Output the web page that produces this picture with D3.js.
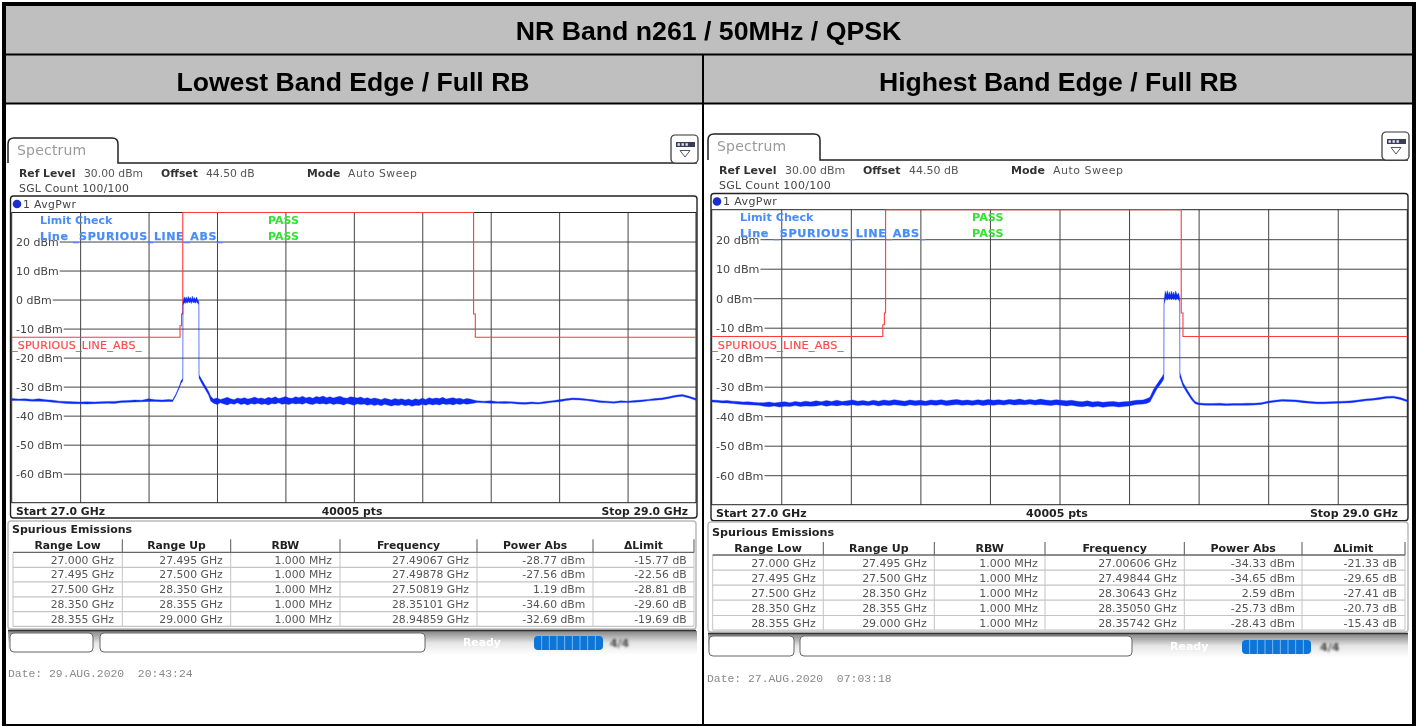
<!DOCTYPE html>
<html>
<head>
<meta charset="utf-8">
<script src="https://cdnjs.cloudflare.com/ajax/libs/d3/7.8.5/d3.min.js"></script>
<style>
  html, body { margin: 0; padding: 0; background: #fff; }
  svg { display: block; }
  text { font-family: "DejaVu Sans", sans-serif; }
</style>
</head>
<body>
<script>
'use strict';
// ---- values ----
var mainTitle = "NR Band n261 / 50MHz / QPSK";
var subTitles = ["Lowest Band Edge / Full RB", "Highest Band Edge / Full RB"];
var levelTicks = [20, 10, 0, -10, -20, -30, -40, -50, -60];
var freqTicks = [27.2, 27.4, 27.6, 27.8, 28.0, 28.2, 28.4, 28.6, 28.8];
var limitFreq = [27, 27.492, 27.492, 27.4965, 27.4965, 27.5, 27.5, 28.35, 28.35, 28.355, 28.355, 29];
var limitLevel = [-13, -13, -9, -9, -5, -5, 30, 30, -5, -5, -13, -13];
var tableHeaders = ["Range Low", "Range Up", "RBW", "Frequency", "Power Abs", "\u0394Limit"];
var rangeLow = ["27.000 GHz", "27.495 GHz", "27.500 GHz", "28.350 GHz", "28.355 GHz"];
var rangeUp = ["27.495 GHz", "27.500 GHz", "28.350 GHz", "28.355 GHz", "29.000 GHz"];
var rbw = ["1.000 MHz", "1.000 MHz", "1.000 MHz", "1.000 MHz", "1.000 MHz"];

var peakFreqLeft = ["27.49067 GHz", "27.49878 GHz", "27.50819 GHz", "28.35101 GHz", "28.94859 GHz"];
var powerLeft = ["-28.77 dBm", "-27.56 dBm", "1.19 dBm", "-34.60 dBm", "-32.69 dBm"];
var deltaLeft = ["-15.77 dB", "-22.56 dB", "-28.81 dB", "-29.60 dB", "-19.69 dB"];
var peakFreqRight = ["27.00606 GHz", "27.49844 GHz", "28.30643 GHz", "28.35050 GHz", "28.35742 GHz"];
var powerRight = ["-34.33 dBm", "-34.65 dBm", "2.59 dBm", "-25.73 dBm", "-28.43 dBm"];
var deltaRight = ["-21.33 dB", "-29.65 dB", "-27.41 dB", "-20.73 dB", "-15.43 dB"];

// trace envelopes in dBm, upper and lower edge. floor and tail parts sit on a regular sweep grid, see sweep()
// left screen, 27.00 GHz upward every 20 MHz
var leftFloorHigh = [-34.1, -34.3, -34.2, -34.4, -34.2, -34.5, -34.7, -35, -35.1, -35.2, -35.3, -35.2, -35.3, -35.2, -35.1, -35.1, -34.9, -34.8, -34.6, -34.7, -34.2, -34.5, -34.6, -34.4];
var leftFloorLow = [-34.8, -34.8, -34.9, -35, -35, -35.1, -35.4, -35.6, -35.8, -35.9, -35.9, -36, -35.9, -35.8, -35.7, -35.8, -35.5, -35.4, -35.3, -35.2, -35.1, -35.1, -35.2, -35.1];
// left screen, skirts and occupied band
var leftBandFreq = [27.47, 27.48, 27.49, 27.495, 27.4995, 27.5, 27.5005, 27.504, 27.507, 27.51, 27.513, 27.516, 27.519, 27.522, 27.525, 27.528, 27.531, 27.534, 27.537, 27.54, 27.544, 27.5465, 27.547, 27.5475, 27.555, 27.565, 27.575, 27.582];
var leftBandHigh = [-34.6, -32.5, -29.8, -28, -27.3, -26.8, -1, 1, 0.2, 0.9, 0, 1.1, 0.2, 0.8, -0.1, 1.19, 0.1, 0.7, -0.1, 0.9, -0.2, -0.6, -1, -26, -27.5, -29.5, -31.5, -33.4];
var leftBandLow = [-35.2, -33.1, -30.4, -28.8, -28.2, -27.6, -2, -1, -1.4, -0.8, -1.3, -0.6, -1.2, -0.7, -1.4, -0.5, -1.2, -0.8, -1.3, -0.7, -1.4, -1.6, -2, -27, -28.8, -30.8, -32.8, -35];
// left screen, 27.59 GHz upward every 10 MHz
var leftNoiseHigh = [
  -34.3, -33.9, -34.4, -34.1, -33.7, -34.2, -34.5, -33.9, -34.2, -33.8, -34.3,
  -34.0, -33.6, -34.1, -33.9, -34.3, -33.7, -34.0, -33.5, -34.1, -33.8, -33.4,
  -33.9, -34.0, -33.5, -33.8, -33.3, -33.9, -33.6, -34.0, -33.4, -33.7, -33.2,
  -33.8, -33.5, -33.9, -33.6, -33.3, -33.8, -34.0, -33.5, -33.7, -33.9, -33.6,
  -34.1, -33.8, -34.3, -33.9, -34.2, -34.5, -34.0, -34.3, -34.6, -34.1, -34.4,
  -34.2, -34.6, -34.3, -34.7, -34.2, -34.5, -34.0, -34.4, -33.8, -34.2, -33.9,
  -34.1, -33.7, -34.3, -34.0, -33.8, -34.2, -34.0, -34.4, -34.1, -34.3, -34.6];
var leftNoiseLow = [
  -35.7, -36.2, -35.6, -36.0, -36.3, -35.8, -36.1, -35.6, -36.2, -35.9, -36.3,
  -35.8, -36.1, -35.7, -36.2, -35.9, -36.3, -35.8, -36.0, -35.6, -36.1, -35.9,
  -36.2, -35.7, -36.0, -35.8, -36.1, -35.6, -36.0, -36.2, -35.7, -36.0, -35.8,
  -36.1, -35.7, -36.2, -35.9, -36.0, -36.3, -35.8, -36.1, -36.4, -35.9, -36.2,
  -36.0, -36.4, -36.1, -36.5, -36.2, -36.6, -36.1, -36.4, -36.7, -36.3, -36.5,
  -36.2, -36.6, -36.3, -36.8, -36.4, -36.5, -36.1, -36.4, -36.0, -36.3, -36.1,
  -36.3, -35.9, -36.2, -36.0, -36.3, -35.9, -36.2, -35.8, -36.1, -35.9, -35.7];
// left screen, 28.36 GHz upward every 20 MHz
var leftTailHigh = [-34.9, -35, -34.9, -35.2, -35.1, -35.2, -35.4, -35.5, -35.3, -35.5, -35.1, -34.9, -34.5, -34.2, -33.9, -34, -34.3, -34.5, -34.9, -35, -35.2, -34.9, -35, -34.8, -34.6, -34.4, -34.1, -33.9, -33.5, -33, -32.7, -33.3, -34.1];
var leftTailLow = [-35.5, -35.6, -35.7, -35.7, -35.8, -35.7, -36, -36.1, -35.9, -36, -35.7, -35.4, -35.2, -34.8, -34.5, -34.6, -34.8, -35.1, -35.5, -35.6, -35.7, -35.5, -35.5, -35.4, -35.2, -34.9, -34.7, -34.5, -34.1, -33.6, -33.3, -33.9, -34.7];

// right screen, 27.00 GHz upward every 15 MHz
var rightNoiseHigh = [
  -34.5, -34.6, -34.8, -34.7, -34.9, -35.0, -35.2, -35.1, -35.3, -35.4,
  -35.4, -35.2, -35.5, -35.3, -35.1, -35.4, -35.0, -35.3, -34.9, -35.2,
  -34.8, -35.1, -34.7, -35.0, -34.6, -35.0, -34.8, -34.5, -34.9, -34.7,
  -35.0, -34.6, -34.9, -34.5, -34.8, -34.4, -34.7, -34.9, -34.5, -34.8,
  -34.6, -34.9, -34.5, -34.7, -34.4, -34.8, -34.5, -34.3, -34.7, -34.5,
  -34.8, -34.4, -34.7, -34.3, -34.6, -34.4, -34.7, -34.3, -34.5, -34.2,
  -34.6, -34.3, -34.6, -34.2, -34.5, -34.7, -34.4, -34.6, -34.8, -34.6,
  -34.9, -35.1, -34.8, -35.2, -35.0, -35.3, -35.1, -35.0, -35.3, -35.1, -35.0];
var rightNoiseLow = [
  -35.2, -35.3, -35.5, -35.5, -35.7, -35.9, -36.0, -36.1, -36.2, -36.3,
  -36.6, -36.8, -36.5, -36.9, -36.6, -36.7, -36.4, -36.7, -36.5, -36.6,
  -36.5, -36.2, -36.6, -36.3, -36.5, -36.2, -36.4, -36.1, -36.4, -36.2,
  -36.4, -36.1, -36.5, -36.2, -36.4, -36.1, -36.3, -36.5, -36.1, -36.4,
  -36.2, -36.4, -36.1, -36.3, -36.0, -36.4, -36.2, -36.0, -36.3, -36.1,
  -36.3, -36.0, -36.4, -36.1, -36.3, -36.0, -36.2, -35.9, -36.2, -36.0,
  -36.1, -35.9, -36.2, -36.0, -36.2, -36.4, -36.1, -36.3, -36.5, -36.3,
  -36.6, -36.8, -36.5, -36.9, -36.6, -37.0, -36.7, -36.6, -36.9, -36.7, -36.5];
// right screen, skirts and occupied band
var rightBandFreq = [28.22, 28.24, 28.25, 28.26, 28.27, 28.28, 28.295, 28.3, 28.3005, 28.304, 28.307, 28.31, 28.313, 28.316, 28.319, 28.322, 28.325, 28.328, 28.331, 28.334, 28.338, 28.342, 28.345, 28.3455, 28.346, 28.355, 28.365, 28.38, 28.39];
var rightBandHigh = [-34.6, -34.5, -34.1, -33.6, -31, -29.2, -26.6, -25.5, -1, 2.4, 1.2, 2.59, 1.1, 2.2, 1, 2.4, 1.2, 2.1, 1, 2.5, 1.1, 1.8, 0.5, -0.5, -25.2, -28.6, -30.6, -33.5, -35];
var rightBandLow = [-36, -35.9, -35.7, -35.2, -33, -30.8, -28.4, -27.3, -2, -0.6, -0.1, -0.7, 0, -0.5, 0.1, -0.6, 0, -0.5, 0, -0.7, -0.1, -0.5, -1, -2, -26.8, -29.8, -31.8, -34.5, -35.8];
// right screen, 28.40 GHz upward every 20 MHz
var rightTailHigh = [-35.5, -35.7, -35.7, -35.6, -35.8, -35.7, -35.7, -35.6, -35.6, -35.4, -34.9, -34.6, -34.3, -34.4, -34.5, -34.8, -35, -35.2, -35.2, -35.1, -35, -34.9, -34.8, -34.5, -34.2, -34, -33.7, -33.3, -33.2, -33.7, -34.5];
var rightTailLow = [-36.1, -36.3, -36.3, -36.3, -36.4, -36.3, -36.3, -36.3, -36.2, -36, -35.5, -35.2, -34.9, -35, -35.1, -35.4, -35.6, -35.8, -35.8, -35.7, -35.6, -35.5, -35.4, -35.1, -34.8, -34.6, -34.3, -33.9, -33.8, -34.3, -35.1];

// frequency grid for a part of the sweep
function sweep(start, step, n) {
  return d3.range(n).map(function(i) { return start + i * step; });
}
var traceFreqLeft = sweep(27, 0.02, leftFloorHigh.length).concat(leftBandFreq, sweep(27.59, 0.01, leftNoiseHigh.length), sweep(28.36, 0.02, leftTailHigh.length));
var traceHighLeft = leftFloorHigh.concat(leftBandHigh, leftNoiseHigh, leftTailHigh);
var traceLowLeft = leftFloorLow.concat(leftBandLow, leftNoiseLow, leftTailLow);
var traceFreqRight = sweep(27, 0.015, rightNoiseHigh.length).concat(rightBandFreq, sweep(28.4, 0.02, rightTailHigh.length));
var traceHighRight = rightNoiseHigh.concat(rightBandHigh, rightTailHigh);
var traceLowRight = rightNoiseLow.concat(rightBandLow, rightTailLow);

// ---- layout ----
var width = 1419, height = 726;
var layoutLeft = {
  plot: [11.7, 696, 212.5, 502.7], frame: [10.5, 697, 196, 518], tab: [8, 118, 138, 163], tabEnd: 697,
  infoY: [173.3, 188.3], infoX: [19, 84, 161, 206, 307, 348], avgY: 204, dotX: 17,
  checkY: [220, 236], checkX: 40, passX: 268, limitLabel: [12, 345], tickX: 16,
  footY: 511, footX: [16, 352, 688], fontSize: 10.8,
  table: [8, 696, 521, 629], tableTitle: [12, 529], headY: 545.5, headLine: 552.3,
  rowY: [560, 574.4, 589.4, 604.3, 619], cols: [13, 122.3, 230.7, 340, 477, 593, 694], ends: [114, 222.7, 332, 469, 585.3, 686.7],
  status: [8, 697, 631, 655], box1: [10, 93, 633, 652], box2: [100, 425, 633, 652], ready: [463, 642], prog: [534, 603, 636, 650], fourX: 610,
  date: [8, 677], stamp: "Date: 29.AUG.2020  20:43:24", icon: [671, 135]
};
var layoutRight = {
  plot: [711.7, 1407.3, 209.7, 504.7], frame: [711, 1408, 193.5, 520.7], tab: [708, 820, 134, 160], tabEnd: 1408,
  infoY: [170.3, 185.3], infoX: [719, 785, 863, 909, 1011, 1053], avgY: 201.5, dotX: 717,
  checkY: [217.5, 233.5], checkX: 740, passX: 972, limitLabel: [712, 345], tickX: 716,
  footY: 513, footX: [716, 1057, 1398], fontSize: 11,
  table: [708, 1408, 522, 632], tableTitle: [712, 532], headY: 548, headLine: 555,
  rowY: [562.7, 577.7, 592.7, 608, 622.7], cols: [712.7, 823.3, 934.3, 1045, 1184.3, 1302, 1405], ends: [815.7, 926.7, 1037.7, 1176.7, 1295, 1397],
  status: [708, 1408, 634, 658], box1: [709, 794, 636, 656], box2: [800, 1132, 636, 656], ready: [1170, 646], prog: [1242, 1311, 640, 654], fourX: 1320,
  date: [707, 682], stamp: "Date: 27.AUG.2020  07:03:18", icon: [1382, 132]
};

var svg = d3.select("body").append("svg").attr("width", width).attr("height", height);
var defs = svg.append("defs");
defs.append("filter").attr("id", "soft").attr("x", "-2%").attr("y", "-2%").attr("width", "104%").attr("height", "104%")
  .append("feGaussianBlur").attr("stdDeviation", 0.4);
defs.append("filter").attr("id", "smear").attr("x", "-20%").attr("y", "-20%").attr("width", "140%").attr("height", "140%")
  .append("feGaussianBlur").attr("stdDeviation", 0.9);
var grad = defs.append("linearGradient").attr("id", "statusFade").attr("x1", 0).attr("x2", 0).attr("y1", 0).attr("y2", 1);
grad.append("stop").attr("offset", 0).attr("stop-color", "#858585");
grad.append("stop").attr("offset", 0.5).attr("stop-color", "#e6e6e6");
grad.append("stop").attr("offset", 1).attr("stop-color", "#fff");

// header bands
svg.append("rect").attr("x", 4).attr("y", 4).attr("width", 1410).attr("height", 100).attr("fill", "#bfbfbf");

function label(g, x, y, txt, size, color, bold, anchor) {
  return g.append("text").attr("x", x).attr("y", y).attr("dy", "0.35em")
    .attr("font-size", size).attr("fill", color)
    .attr("font-weight", bold ? "bold" : "normal")
    .attr("text-anchor", anchor || "start").text(txt);
}

function drawPanel(L, freq, high, low, peakFreq, power, delta) {
  var g = svg.append("g").attr("filter", "url(#soft)");
  var fs = L.fontSize;
  var x = d3.scaleLinear().domain([27, 29]).range([L.plot[0], L.plot[1]]);
  var y = d3.scaleLinear().domain([30, -70]).range([L.plot[2], L.plot[3]]);

  // tab + icon
  var t = L.tab;
  g.append("path")
    .attr("d", "M" + t[0] + "," + t[3] + "V" + (t[2] + 6) + "Q" + t[0] + "," + t[2] + " " + (t[0] + 6) + "," + t[2] +
      "H" + (t[1] - 6) + "Q" + t[1] + "," + t[2] + " " + t[1] + "," + (t[2] + 6) + "V" + t[3] + "H" + L.tabEnd)
    .attr("fill", "none").attr("stroke", "#222").attr("stroke-width", 1.5);
  label(g, t[0] + 9, t[2] + 12.5, "Spectrum", 14, "#9a9a9a", false).style("letter-spacing", "0.2px");
  var ic = g.append("g").attr("transform", "translate(" + L.icon[0] + "," + L.icon[1] + ")");
  ic.append("rect").attr("x", 0).attr("y", 0).attr("width", 27).attr("height", 28).attr("rx", 4)
    .attr("fill", "#fff").attr("stroke", "#333").attr("stroke-width", 1.2);
  ic.append("rect").attr("x", 5).attr("y", 7).attr("width", 19).attr("height", 5).attr("fill", "#3a3a5a");
  ic.selectAll(".cell").data([6.5, 10.5, 14.5]).join("rect").attr("class", "cell")
    .attr("x", function(d) { return d; }).attr("y", 8.2).attr("width", 2.4).attr("height", 2.6).attr("fill", "#dde");
  ic.append("path").attr("d", "M9,15.5H19L14,22Z").attr("fill", "#fff").attr("stroke", "#556").attr("stroke-width", 1);

  // settings lines
  label(g, L.infoX[0], L.infoY[0], "Ref Level", fs, "#333", true);
  label(g, L.infoX[1], L.infoY[0], "30.00 dBm", fs, "#555");
  label(g, L.infoX[2], L.infoY[0], "Offset", fs, "#333", true);
  label(g, L.infoX[3], L.infoY[0], "44.50 dB", fs, "#555");
  label(g, L.infoX[4], L.infoY[0], "Mode", fs, "#333", true);
  label(g, L.infoX[5], L.infoY[0], "Auto Sweep", fs, "#555").style("letter-spacing", "0.5px");
  label(g, L.infoX[0], L.infoY[1], "SGL Count 100/100", fs, "#444").style("letter-spacing", "0.3px");

  // screen frame
  var fr = L.frame;
  g.append("rect").attr("x", fr[0]).attr("y", fr[2]).attr("width", fr[1] - fr[0]).attr("height", fr[3] - fr[2])
    .attr("rx", 3).attr("fill", "#fff").attr("stroke", "#222").attr("stroke-width", 1.4);
  g.append("circle").attr("cx", L.dotX).attr("cy", L.avgY).attr("r", 4.3).attr("fill", "#1a2fd0");
  label(g, L.dotX + 6, L.avgY, "1 AvgPwr", fs, "#444").style("letter-spacing", "0.4px");

  // grid from the axes
  var plotW = L.plot[1] - L.plot[0], plotH = L.plot[3] - L.plot[2];
  var xGrid = g.append("g").attr("transform", "translate(0," + L.plot[3] + ")")
    .call(d3.axisBottom(x).tickValues(freqTicks).tickSize(-plotH).tickFormat(""));
  var yAxis = g.append("g").attr("transform", "translate(" + L.plot[0] + ",0)")
    .call(d3.axisRight(y).tickValues(levelTicks).tickSize(plotW).tickFormat(function(d) { return d + " dBm"; }));
  xGrid.select(".domain").remove();
  yAxis.select(".domain").remove();
  xGrid.selectAll("line").attr("stroke", "#444").attr("stroke-width", 1);
  yAxis.selectAll("line").attr("stroke", "#444").attr("stroke-width", 1);
  yAxis.selectAll("text")
    .attr("x", L.tickX - L.plot[0]).attr("dy", "0.35em")
    .attr("font-size", fs + 0.2).attr("font-family", "DejaVu Sans").attr("fill", "#444");
  // tick lines start just after their label
  yAxis.selectAll(".tick").each(function() {
    var tick = d3.select(this);
    var box = tick.select("text").node().getBBox();
    tick.select("line").attr("x1", box.x + box.width + 1);
  });
  g.append("rect").attr("x", L.plot[0]).attr("y", L.plot[2]).attr("width", plotW).attr("height", plotH)
    .attr("fill", "none").attr("stroke", "#222").attr("stroke-width", 1);

  // limit check text
  var blue = "#4a8dfa", green = "#35e035";
  label(g, L.checkX, L.checkY[0], "Limit Check", fs + 0.2, blue, true);
  label(g, L.checkX, L.checkY[1], "Line  _SPURIOUS_LINE_ABS_", fs + 0.2, blue, true)
    .attr("stroke", blue).attr("stroke-width", 0.25).style("letter-spacing", "0.62px");
  label(g, L.passX, L.checkY[0], "PASS", fs + 0.2, green, true);
  label(g, L.passX, L.checkY[1], "PASS", fs + 0.2, green, true);

  // limit line
  var limitLine = d3.line().x(function(d, i) { return x(limitFreq[i]); }).y(function(d) { return y(d); });
  g.append("path").attr("d", limitLine(limitLevel)).attr("fill", "none").attr("stroke", "#ff3a3a").attr("stroke-width", 1.1);
  label(g, L.limitLabel[0], L.limitLabel[1], "_SPURIOUS_LINE_ABS_", fs + 0.2, "#ff4a4a")
    .attr("stroke", "#ff4a4a").attr("stroke-width", 0.2).style("letter-spacing", "0.25px");

  // trace
  var traceArea = d3.area()
    .x(function(d, i) { return x(freq[i]); })
    .y0(function(d, i) { return y(low[i]); })
    .y1(function(d) { return y(d); });
  g.append("path").attr("d", traceArea(high)).attr("fill", "#0a2cf5").attr("stroke", "#0a2cf5").attr("stroke-width", 0.35);

  // footer
  label(g, L.footX[0], L.footY, "Start 27.0 GHz", fs, "#222", true);
  label(g, L.footX[1], L.footY, "40005 pts", fs, "#222", true, "middle");
  label(g, L.footX[2], L.footY, "Stop 29.0 GHz", fs, "#222", true, "end");

  // status bar behind the buttons
  var st = L.status;
  g.append("rect").attr("x", st[0]).attr("y", st[2]).attr("width", st[1] - st[0]).attr("height", st[3] - st[2]).attr("fill", "url(#statusFade)");

  // result table
  var tb = L.table;
  g.append("rect").attr("x", tb[0]).attr("y", tb[2]).attr("width", tb[1] - tb[0]).attr("height", tb[3] - tb[2])
    .attr("rx", 3).attr("fill", "#fff").attr("stroke", "#bbb").attr("stroke-width", 1.5);
  g.append("line").attr("x1", tb[0]).attr("x2", tb[1]).attr("y1", tb[3] + 1.5).attr("y2", tb[3] + 1.5).attr("stroke", "#333").attr("stroke-width", 1.5);
  label(g, L.tableTitle[0], L.tableTitle[1], "Spurious Emissions", fs + 0.2, "#222", true);

  g.selectAll(".head").data(tableHeaders).join("text").attr("class", "head")
    .attr("x", function(d, i) { return (L.cols[i] + L.cols[i + 1]) / 2; })
    .attr("y", L.headY).attr("dy", "0.35em").attr("text-anchor", "middle")
    .attr("font-size", fs).attr("font-weight", "bold").attr("fill", "#222").text(function(d) { return d; });

  var rowStep = (L.rowY[4] - L.rowY[0]) / 4;
  // light row rulings, from the row positions
  g.selectAll(".rule").data(L.rowY).join("line").attr("class", "rule")
    .attr("x1", L.cols[0]).attr("x2", L.cols[6])
    .attr("y1", function(d) { return d + rowStep / 2; }).attr("y2", function(d) { return d + rowStep / 2; })
    .attr("stroke", "#c4c4c4").attr("stroke-width", 1.2);
  g.selectAll(".sep").data(L.cols).join("line").attr("class", "sep")
    .attr("x1", function(d) { return d; }).attr("x2", function(d) { return d; })
    .attr("y1", L.headLine).attr("y2", L.rowY[4] + rowStep / 2)
    .attr("stroke", "#c4c4c4").attr("stroke-width", 1);
  g.selectAll(".sepHead").data(L.cols.slice(1)).join("line").attr("class", "sepHead")
    .attr("x1", function(d) { return d; }).attr("x2", function(d) { return d; })
    .attr("y1", L.headLine - 13).attr("y2", L.headLine)
    .attr("stroke", "#555").attr("stroke-width", 1);
  g.append("line").attr("x1", L.cols[0]).attr("x2", L.cols[6]).attr("y1", L.headLine).attr("y2", L.headLine)
    .attr("stroke", "#666").attr("stroke-width", 1.3);

  var columns = [rangeLow, rangeUp, rbw, peakFreq, power, delta];
  columns.forEach(function(col, c) {
    col.forEach(function(v, r) {
      label(g, L.ends[c], L.rowY[r], v, fs, "#555", false, "end");
    });
  });

  // softkey boxes and sweep bar
  [L.box1, L.box2].forEach(function(b) {
    g.append("rect").attr("x", b[0]).attr("y", b[2]).attr("width", b[1] - b[0]).attr("height", b[3] - b[2])
      .attr("rx", 4).attr("fill", "#fff").attr("stroke", "#666").attr("stroke-width", 1);
  });
  label(g, L.ready[0], L.ready[1], "Ready", fs, "#fff", true);
  var p = L.prog, segW = (p[1] - p[0]) / 9;
  g.append("rect").attr("x", p[0]).attr("y", p[2]).attr("width", p[1] - p[0]).attr("height", p[3] - p[2])
    .attr("rx", 4).attr("fill", "#0b74d8");
  g.selectAll(".seg").data(d3.range(1, 9)).join("line").attr("class", "seg")
    .attr("x1", function(d) { return p[0] + d * segW; }).attr("x2", function(d) { return p[0] + d * segW; })
    .attr("y1", p[2]).attr("y2", p[3]).attr("stroke", "#7fb8ec").attr("stroke-width", 1);
  label(g, L.fourX, (p[2] + p[3]) / 2, "4/4", fs, "#444", true).attr("filter", "url(#smear)");

  // date stamp
  g.append("text").attr("x", L.date[0]).attr("y", L.date[1]).attr("xml:space", "preserve").style("white-space", "pre")
    .attr("font-size", 11.4).attr("fill", "#8a8a8a").style("font-family", "'Liberation Mono', monospace").text(L.stamp);
}

drawPanel(layoutLeft, traceFreqLeft, traceHighLeft, traceLowLeft, peakFreqLeft, powerLeft, deltaLeft);
drawPanel(layoutRight, traceFreqRight, traceHighRight, traceLowRight, peakFreqRight, powerRight, deltaRight);

// titles
label(svg, 708.5, 30.5, mainTitle, 26.7, "#000", true, "middle").style("font-family", "'Liberation Sans', Arial, sans-serif");
label(svg, 353, 81.5, subTitles[0], 26.6, "#000", true, "middle").style("font-family", "'Liberation Sans', Arial, sans-serif");
label(svg, 1058.5, 81.5, subTitles[1], 26.6, "#000", true, "middle").style("font-family", "'Liberation Sans', Arial, sans-serif");

// outer ruling
svg.append("rect").attr("x", 2).attr("y", 2).attr("width", 1414).attr("height", 4).attr("fill", "#000");
svg.append("rect").attr("x", 2).attr("y", 53.5).attr("width", 1414).attr("height", 2).attr("fill", "#000");
svg.append("rect").attr("x", 2).attr("y", 102.5).attr("width", 1414).attr("height", 2).attr("fill", "#000");
svg.append("rect").attr("x", 2).attr("y", 2).attr("width", 4).attr("height", 724).attr("fill", "#000");
svg.append("rect").attr("x", 702).attr("y", 54).attr("width", 2).attr("height", 672).attr("fill", "#000");
svg.append("rect").attr("x", 1412).attr("y", 2).attr("width", 4).attr("height", 724).attr("fill", "#000");
svg.append("rect").attr("x", 2).attr("y", 724).attr("width", 1414).attr("height", 2).attr("fill", "#000");
</script>
</body>
</html>
